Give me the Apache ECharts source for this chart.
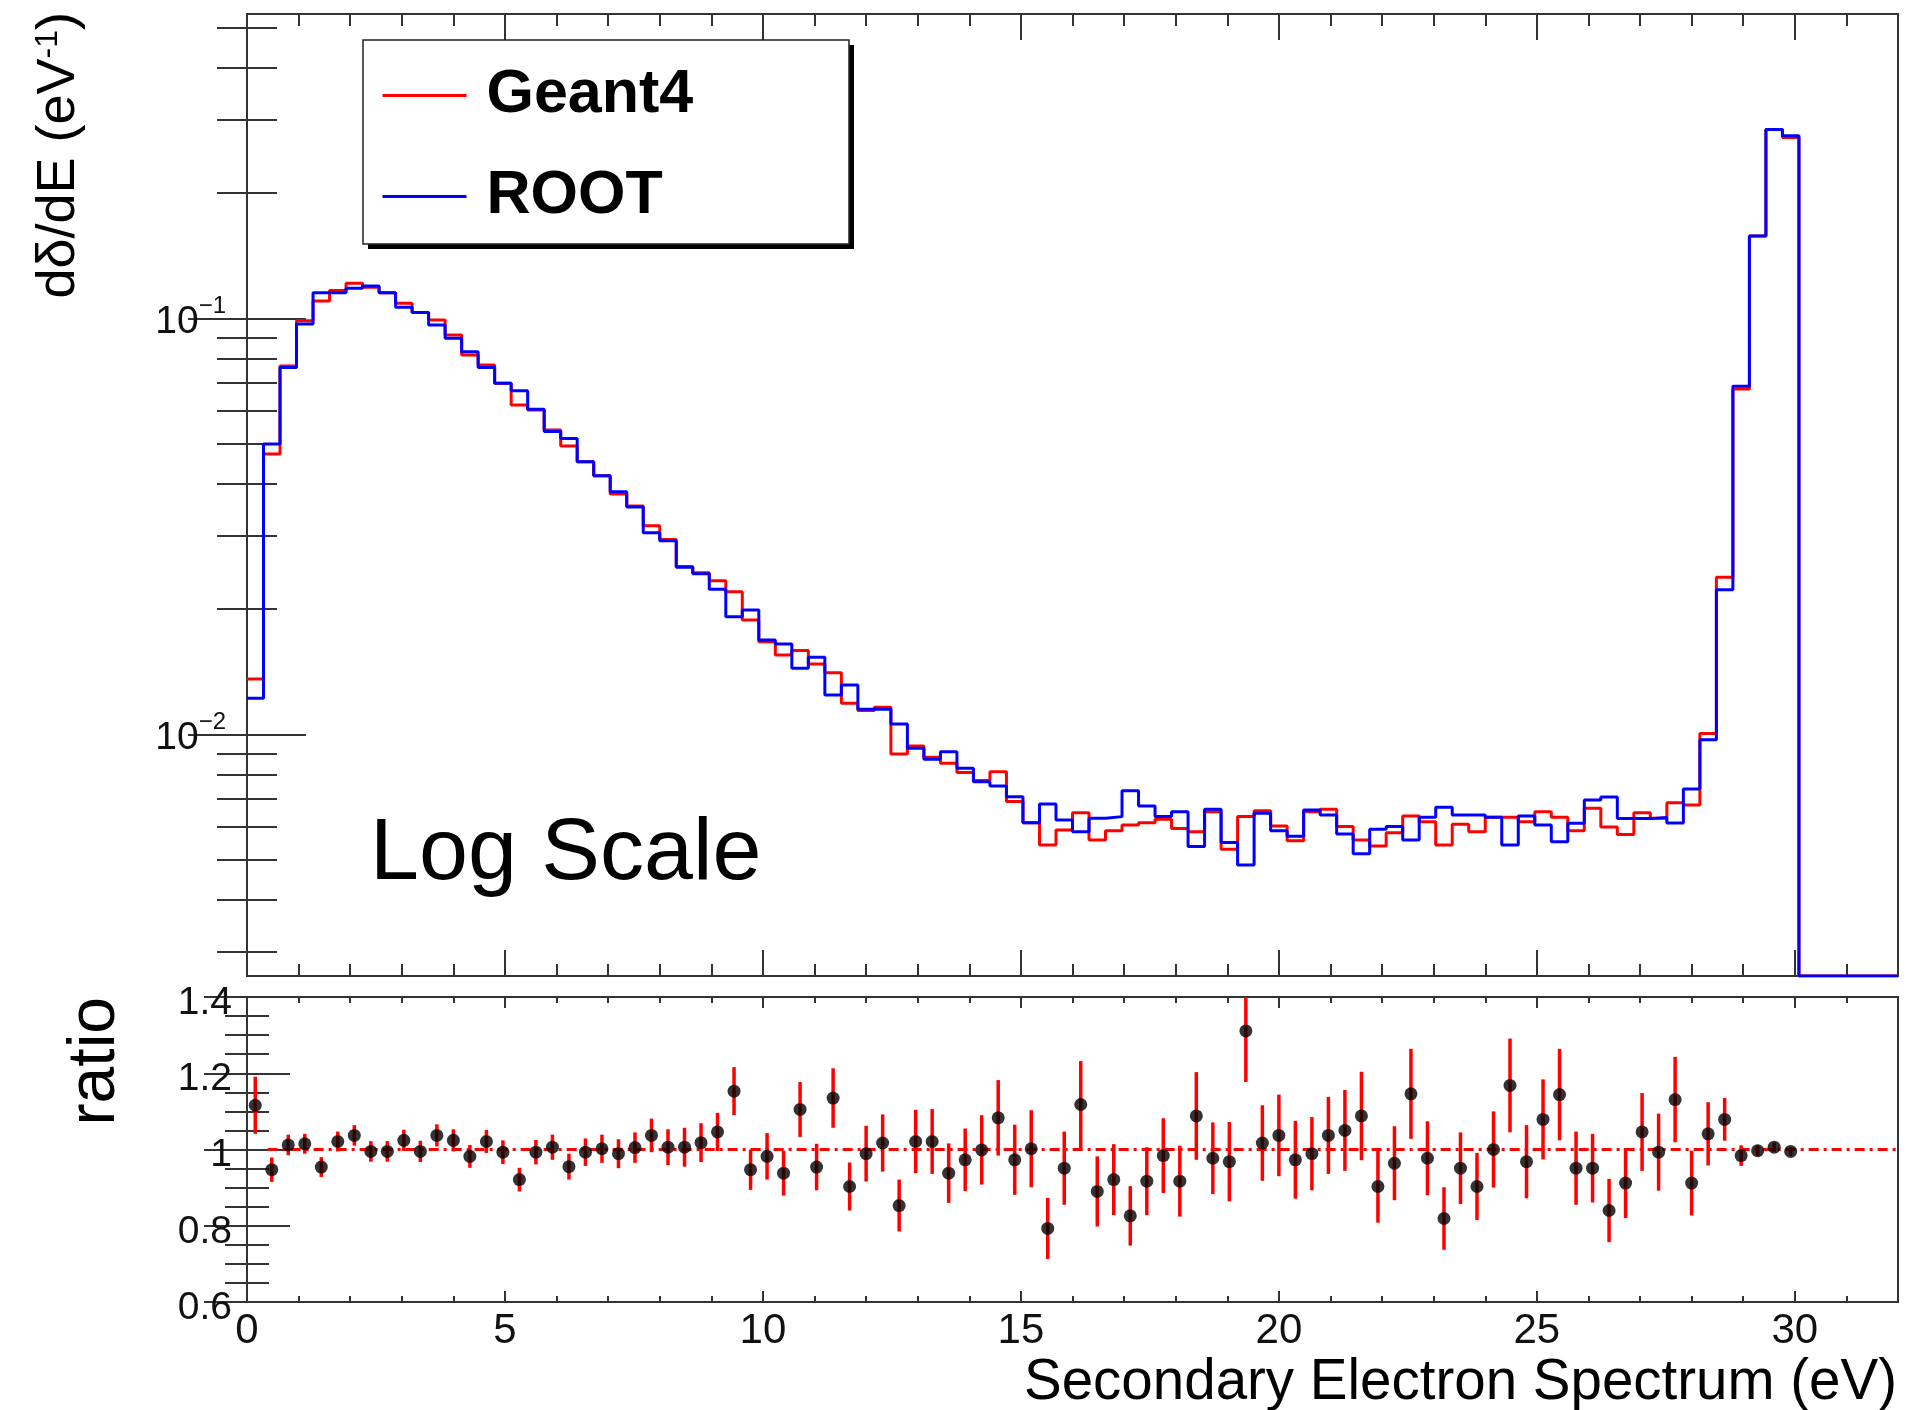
<!DOCTYPE html>
<html><head><meta charset="utf-8">
<script src="https://cdn.jsdelivr.net/npm/echarts@6/dist/echarts.min.js"></script>
<style>html,body{margin:0;padding:0;background:#fff}#c{width:1910px;height:1410px}</style>
</head><body><div id="c"></div>
<script>
const FONT = "'Liberation Sans', Arial, Helvetica, sans-serif";

// ---- data ----
const nBins = 100;
const histRange = [0, 32];
const geant4 = [
0.01358, 0.04718, 0.0768, 0.0987, 0.1101, 0.1166, 0.1214, 0.1187, 0.1152, 0.1087,
0.1032, 0.0991, 0.0912, 0.0816, 0.0772, 0.0698, 0.0619, 0.0602, 0.0539, 0.0493,
0.0452, 0.0418, 0.0378, 0.0354, 0.0317, 0.0294, 0.0253, 0.02446, 0.0234, 0.02202,
0.01883, 0.01670, 0.01551, 0.01589, 0.01476, 0.01406, 0.01187, 0.01140, 0.01161, 0.00897,
0.00937, 0.00881, 0.00852, 0.00809, 0.00774, 0.00813, 0.00689, 0.00613, 0.00542, 0.00589,
0.00648, 0.00557, 0.00586, 0.00605, 0.00613, 0.00625, 0.00594, 0.00583, 0.00651, 0.00529,
0.00634, 0.00655, 0.00602, 0.00555, 0.00651, 0.00660, 0.00600, 0.00557, 0.00539, 0.00580,
0.00636, 0.00616, 0.00542, 0.00608, 0.00583, 0.00632, 0.00632, 0.00616, 0.00651, 0.00632,
0.00586, 0.00664, 0.00599, 0.00574, 0.00648, 0.00628, 0.00685, 0.00676, 0.01005, 0.02385,
0.0676, 0.1577, 0.2843, 0.2720, 0, 0, 0, 0, 0, 0
];
const root = [
0.01220, 0.04987, 0.0762, 0.0969, 0.1152, 0.1152, 0.1181, 0.1196, 0.1152, 0.1063,
0.1032, 0.0964, 0.0895, 0.0831, 0.0762, 0.0698, 0.0670, 0.0604, 0.0534, 0.0514,
0.0452, 0.0418, 0.0383, 0.0352, 0.0305, 0.0292, 0.0252, 0.0243, 0.02231, 0.01917,
0.01989, 0.01686, 0.01649, 0.01441, 0.01531, 0.01243, 0.01314, 0.01148, 0.01148, 0.01059,
0.00925, 0.00871, 0.00908, 0.00829, 0.00769, 0.00751, 0.00708, 0.00613, 0.00680, 0.00622,
0.00583, 0.00628, 0.00634, 0.00732, 0.00672, 0.00634, 0.00651, 0.00537, 0.00660, 0.00549,
0.00485, 0.00646, 0.00586, 0.00569, 0.00658, 0.00640, 0.00576, 0.00516, 0.00591, 0.00600,
0.00557, 0.00632, 0.00668, 0.00640, 0.00640, 0.00632, 0.00542, 0.00636, 0.00605, 0.00552,
0.00611, 0.00695, 0.00707, 0.00627, 0.00627, 0.00631, 0.00612, 0.00739, 0.00970, 0.02224,
0.0686, 0.1577, 0.2843, 0.2746, 0, 0, 0, 0, 0, 0
];
const ratio = [
1.116, 0.947, 1.012, 1.015, 0.954, 1.021, 1.037, 0.995, 0.995, 1.024,
0.995, 1.037, 1.024, 0.982, 1.021, 0.993, 0.921, 0.993, 1.006, 0.955,
0.993, 1.002, 0.989, 1.005, 1.037, 1.006, 1.006, 1.018, 1.046, 1.153,
0.947, 0.982, 0.938, 1.105, 0.954, 1.135, 0.903, 0.989, 1.017, 0.853,
1.021, 1.021, 0.938, 0.973, 0.999, 1.083, 0.973, 1.002, 0.793, 0.951,
1.118, 0.890, 0.921, 0.826, 0.917, 0.984, 0.917, 1.088, 0.977, 0.968,
1.311, 1.017, 1.037, 0.973, 0.989, 1.037, 1.050, 1.088, 0.903, 0.964,
1.146, 0.977, 0.819, 0.951, 0.903, 1.000, 1.168, 0.968, 1.079, 1.144,
0.951, 0.951, 0.840, 0.912, 1.046, 0.993, 1.131, 0.912, 1.041, 1.079,
0.984, 0.997, 1.006, 0.995
];
const ratioErr = [
0.075, 0.032, 0.027, 0.026, 0.026, 0.026, 0.027, 0.027, 0.027, 0.028,
0.028, 0.029, 0.029, 0.030, 0.030, 0.031, 0.031, 0.032, 0.033, 0.034,
0.036, 0.037, 0.038, 0.040, 0.044, 0.047, 0.051, 0.051, 0.050, 0.063,
0.053, 0.061, 0.059, 0.072, 0.061, 0.078, 0.063, 0.073, 0.075, 0.068,
0.083, 0.085, 0.078, 0.082, 0.091, 0.099, 0.092, 0.101, 0.080, 0.096,
0.114, 0.092, 0.093, 0.078, 0.089, 0.098, 0.093, 0.115, 0.094, 0.104,
0.134, 0.099, 0.107, 0.102, 0.096, 0.101, 0.106, 0.116, 0.095, 0.097,
0.118, 0.097, 0.082, 0.094, 0.088, 0.100, 0.123, 0.096, 0.105, 0.120,
0.096, 0.090, 0.083, 0.092, 0.102, 0.101, 0.112, 0.085, 0.083, 0.056,
0.027, 0.014, 0.012, 0.011
];
const seriesNames = ['Geant4', 'ROOT'];
const xMajorTicks = [0, 5, 10, 15, 20, 25, 30];
const xMinorTicks = [1,2,3,4,6,7,8,9,11,12,13,14,16,17,18,19,21,22,23,24,26,27,28,29,31];
const yTopRange = [0.002624, 0.5388];
const yTopMajorTicks = [0.01, 0.1];
const yTopMinorTicks = [0.003,0.004,0.005,0.006,0.007,0.008,0.009,0.02,0.03,0.04,0.05,0.06,0.07,0.08,0.09,0.2,0.3,0.4,0.5];
const ratioRange = [0.6, 1.4];
const ratioMajorTicks = [0.6, 0.8, 1, 1.2, 1.4];
const ratioMinorTicks = [0.65,0.7,0.75,0.85,0.9,0.95,1.05,1.1,1.15,1.25,1.3,1.35];
const refLineX = [0.4, 32];
const refLineY = 1;

// ---- derived structures for the library ----
const binW = (histRange[1] - histRange[0]) / nBins;
function stepData(vals) {
  const d = vals.map((v, i) => [histRange[0] + i * binW, Math.max(v, yTopRange[0])]);
  d.push([histRange[1], Math.max(vals[vals.length - 1], yTopRange[0])]);
  return d;
}
const ratioPts = ratio.map((r, i) => [histRange[0] + (i + 0.5) * binW, r]);
const errData = ratio.map((r, i) => [histRange[0] + (i + 0.5) * binW, r, ratioErr[i]]);

const TICK = { color: '#333', width: 2 };
function xAx(grid, pos, ticks, len, labels) {
  return {
    type: 'value', gridIndex: grid, position: pos, min: histRange[0], max: histRange[1],
    axisLine: { show: false }, splitLine: { show: false },
    axisTick: { show: true, inside: true, length: len, customValues: ticks, lineStyle: TICK },
    axisLabel: labels ? { show: true, customValues: labels, margin: 8, fontSize: 42, color: '#111', fontFamily: FONT } : { show: false }
  };
}
function yLog(pos, ticks, len, labels) {
  return {
    type: 'log', logBase: 10, gridIndex: 0, position: pos, min: yTopRange[0], max: yTopRange[1],
    axisLine: { show: false }, splitLine: { show: false },
    axisTick: { show: true, inside: true, length: len, customValues: ticks, lineStyle: TICK },
    axisLabel: labels ? {
      show: true, customValues: labels, margin: 21,
      formatter: v => '{b|10}{s|\u2212' + Math.abs(Math.round(Math.log10(v))) + '}',
      rich: {
        b: { fontSize: 39, lineHeight: 39, padding: [8, 0, 0, 0], verticalAlign: 'middle', fontFamily: FONT, color: '#111' },
        s: { fontSize: 24, lineHeight: 24, padding: [0, 0, 23, 0], verticalAlign: 'middle', fontFamily: FONT, color: '#111' }
      }
    } : { show: false }
  };
}
function yRatio(pos, ticks, len, labels) {
  return {
    type: 'value', gridIndex: 1, position: pos, min: ratioRange[0], max: ratioRange[1],
    axisLine: { show: false }, splitLine: { show: false },
    axisTick: { show: true, inside: true, length: len, customValues: ticks, lineStyle: TICK },
    axisLabel: labels ? {
      show: true, customValues: labels, margin: 15,
      formatter: v => '{v|' + v + '}',
      rich: { v: { fontSize: 39, lineHeight: 39, padding: [12, 0, 0, 0], color: '#111', fontFamily: FONT } }
    } : { show: false }
  };
}

const chart = echarts.init(document.getElementById('c'), null, { renderer: 'canvas' });
chart.setOption({
  animation: false,
  backgroundColor: '#fff',
  grid: [
    { left: 247, top: 14, width: 1651, height: 962, show: true, borderColor: '#333', borderWidth: 2, backgroundColor: 'transparent', outerBoundsMode: 'none' },
    { left: 247, top: 997, width: 1651, height: 305, show: true, borderColor: '#333', borderWidth: 2, backgroundColor: 'transparent', outerBoundsMode: 'none' }
  ],
  xAxis: [
    xAx(0, 'bottom', xMajorTicks, 26), xAx(0, 'bottom', xMinorTicks, 12),
    xAx(0, 'top', xMajorTicks, 26), xAx(0, 'top', xMinorTicks, 12),
    xAx(1, 'bottom', xMajorTicks, 11, xMajorTicks), xAx(1, 'bottom', xMinorTicks, 6),
    xAx(1, 'top', xMajorTicks, 11), xAx(1, 'top', xMinorTicks, 6)
  ],
  yAxis: [
    yLog('left', yTopMajorTicks, 59, yTopMajorTicks), yLog('left', yTopMinorTicks, 30),
    yLog('right', yTopMajorTicks, 59), yLog('right', yTopMinorTicks, 30),
    yRatio('left', ratioMajorTicks, 43, ratioMajorTicks), yRatio('left', ratioMinorTicks, 22),
    yRatio('right', ratioMajorTicks, 43), yRatio('right', ratioMinorTicks, 22)
  ],
  legend: {
    show: true, data: seriesNames, orient: 'vertical', left: 363, top: 40, z: 10,
    itemWidth: 84, itemHeight: 60, itemGap: 40, padding: [25, 157, 20, 18],
    backgroundColor: 'transparent', borderWidth: 0,
    selectedMode: false,
    itemStyle: { opacity: 0 },
    lineStyle: { width: 3 },
    textStyle: { fontSize: 61, fontWeight: 'bold', color: '#000', fontFamily: FONT, padding: [0, 0, 0, 15] }
  },
  series: [
    { name: seriesNames[0], type: 'line', xAxisIndex: 0, yAxisIndex: 0, step: 'end', data: stepData(geant4),
      symbol: 'none', lineStyle: { color: '#ff0000', width: 3 }, itemStyle: { color: '#ff0000' }, z: 3, silent: true },
    { name: seriesNames[1], type: 'line', xAxisIndex: 0, yAxisIndex: 0, step: 'end', data: stepData(root),
      symbol: 'none', lineStyle: { color: '#0000ff', width: 3 }, itemStyle: { color: '#0000ff' }, z: 4, silent: true },
    { type: 'line', xAxisIndex: 4, yAxisIndex: 4, data: refLineX.map(x => [x, refLineY]), symbol: 'none',
      lineStyle: { color: '#ff0000', width: 3, type: [10, 5, 3, 5] }, z: 2, silent: true },
    { type: 'custom', xAxisIndex: 4, yAxisIndex: 4, data: errData, clip: true, z: 3, silent: true,
      renderItem: (params, api) => {
        const x = api.value(0), y = api.value(1), e = api.value(2);
        const p1 = api.coord([x, y - e]), p2 = api.coord([x, y + e]);
        return { type: 'line', shape: { x1: p1[0], y1: p1[1], x2: p2[0], y2: p2[1] }, style: { stroke: '#ff0000', lineWidth: 3.5 } };
      } },
    { type: 'scatter', xAxisIndex: 4, yAxisIndex: 4, data: ratioPts, symbol: 'circle', symbolSize: 13,
      itemStyle: { color: '#000' }, z: 5, silent: true }
  ],
  graphic: [
    { type: 'rect', z: 5, shape: { x: 368, y: 45, width: 486, height: 204 }, style: { fill: '#000' }, silent: true },
    { type: 'rect', z: 6, shape: { x: 363, y: 40, width: 486, height: 204 }, style: { fill: '#fff', stroke: '#222', lineWidth: 1.5 }, silent: true },
    { type: 'text', x: 370, y: 855, style: { text: 'Log Scale', font: '88px ' + FONT, fill: '#000', align: 'left', verticalAlign: 'middle' } },
    { type: 'text', x: 1897, y: 1383, style: { text: 'Secondary Electron Spectrum (eV)', font: '56.5px ' + FONT, fill: '#000', align: 'right', verticalAlign: 'middle' } },
    { type: 'text', x: 59, y: 12, rotation: Math.PI / 2,
      style: { text: '{a|d\u03b4/dE (eV}{s|-1}{a|)}', align: 'right', verticalAlign: 'middle',
        rich: {
          a: { fontSize: 54, fontFamily: FONT, fill: '#000', lineHeight: 54, padding: [20, 0, 0, 0], verticalAlign: 'bottom' },
          s: { fontSize: 32, fontFamily: FONT, fill: '#000', lineHeight: 32, verticalAlign: 'top' }
        } } },
    { type: 'text', x: 96, y: 997, rotation: Math.PI / 2, style: { text: 'ratio', font: '66px ' + FONT, fill: '#000', align: 'right', verticalAlign: 'middle' } }
  ]
});
</script>
</body></html>
